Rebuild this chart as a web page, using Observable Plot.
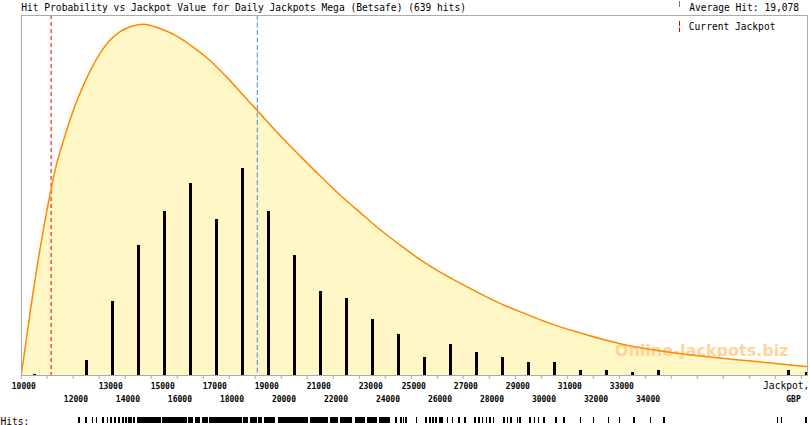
<!DOCTYPE html>
<html>
<head>
<meta charset="utf-8">
<script src="https://cdn.jsdelivr.net/npm/d3@7"></script>
<script src="https://cdn.jsdelivr.net/npm/@observablehq/plot@0.6"></script>
<style>
  html, body { margin: 0; padding: 0; background: white; }
  #chart { width: 810px; }
  #chart svg { display: block; overflow: visible; }
</style>
</head>
<body>
<div id="chart"></div>
<script>
// ---------- data ----------
const gameName = "Daily Jackpots Mega (Betsafe)";
const totalHits = 639;
const averageHit = 19078;
const currentJackpot = 11150;
const xDomain = [10000, 40250];
const yMax = 140.8;

// histogram bins (bin centre, hits)
const binCentres = [10500, 12500, 13500, 14500, 15500, 16500, 17500, 18500, 19500, 20500, 21500,
  22500, 23500, 24500, 25500, 26500, 27500, 28500, 29500, 30500, 31500, 32500, 33500, 34500, 39500, 40190];
const binHits = [0.4, 6, 29, 51, 64, 75, 61, 81, 64, 47, 33,
  30, 22, 16, 7, 12, 9, 7, 5, 5, 2, 2, 1, 2, 2, 1];

// fitted probability curve (jackpot, scaled density)
const curveX = [10000, 10358, 10742, 11127, 11358, 11627, 11896, 12204, 12550, 12935, 13358, 13819,
  14281, 14704, 15358, 16000, 16638, 17281, 17923, 18561, 19100, 19973, 20742, 21512, 22281, 23050,
  23819, 24588, 25358, 26127, 26896, 27665, 28435, 29396, 30358, 31319, 32281, 33550, 34858, 36126,
  37396, 38819, 40231];
const curveY = [0, 25.8, 50.5, 71.8, 82.6, 91.9, 100.5, 109.0, 117.0, 124.4, 130.5, 134.6,
  136.7, 137.4, 135.6, 132.6, 128.2, 123.0, 116.5, 109.4, 103.4, 93.7, 85.7, 77.9, 70.4, 63.6,
  56.9, 50.9, 45.2, 40.3, 36.0, 31.9, 28.1, 24.1, 20.3, 17.2, 14.4, 11.3, 9.2, 7.6,
  6.3, 4.9, 3.5];

// tick values and labels
const tickValues = d3.range(10000, 40001, 1000);
const labelsRowA = [10000, 25000, 27000, 29000, 31000, 33000];
const labelsRowB = [13000, 15000, 17000, 19000, 21000, 23000];
const labelsRowC = [12000, 14000, 16000, 18000, 20000, 22000, 24000, 26000, 28000, 30000, 32000, 34000];

// hits rug: runs of individual hit values [from, to]
const rugFrom = [12215, 12473, 12731, 12885, 13115, 13308, 13435, 13600, 13731, 13885, 14012, 14138, 14331,
  14462, 15446, 16446, 16704, 16961, 17242, 18561, 18819, 19138, 19346, 19885, 21127, 21896, 22281,
  22857, 23319, 23781, 24396, 24588, 24692, 24792, 25204, 25550, 25715, 25831, 25934, 26069, 26384,
  26577, 26830, 27061, 27434, 27600, 27731, 27896, 28023, 28154, 28561, 28692, 28819, 29077, 29177,
  29561, 29742, 29884, 30100, 30550, 30869, 31511, 32000, 32588, 33000, 33561, 34204, 34715, 39077,
  39230, 40177];
const rugTo = [12281, 12538, 12792, 12946, 13215, 13369, 13523, 13654, 13808, 13961, 14088, 14269, 14396,
  15396, 16385, 16638, 16896, 17192, 18500, 18754, 19077, 19292, 19781, 21061, 21830, 22215, 22731,
  23242, 23692, 24204, 24461, 24654, 24754, 24857, 25254, 25615, 25769, 25884, 26011, 26230, 26446,
  26638, 26896, 27127, 27500, 27665, 27792, 27946, 28077, 28204, 28627, 28754, 28884, 29127, 29230,
  29615, 29792, 29934, 30154, 30615, 30923, 31561, 32050, 32638, 33050, 33615, 34254, 34769, 39127,
  39281, 40231];

// ---------- tables ----------
const bins = binCentres.map((x, i) => ({x, hits: binHits[i]}));
const curve = curveX.map((x, i) => ({x, y: curveY[i]}));
const rug = rugFrom.map((a, i) => ({x1: a, x2: rugTo[i]}));

const mono = "DejaVu Sans Mono, monospace";
const fmt = d => String(d);
const avgColor = "#3d8ec6";
const curColor = "#dd0000";

const main = Plot.plot({
  width: 810, height: 410,
  marginTop: 15, marginBottom: 35, marginLeft: 20.7, marginRight: 2.7,
  x: {domain: xDomain, label: null},
  y: {domain: [0, yMax], axis: null, label: null},
  style: {fontFamily: mono, fontSize: "9.6px", background: "white", color: "black"},
  marks: [
    Plot.areaY(curve, {x: "x", y: "y", fill: "#fff8c6", curve: "monotone-x", clip: true}),
    Plot.text(["Online-Jackpots.biz"], {frameAnchor: "bottom-right", textAnchor: "end", lineAnchor: "bottom",
      dx: -19.3, dy: -20, fontFamily: "DejaVu Sans, sans-serif", fontWeight: "bold", fontSize: 16, fill: "#ffd49c"}),
    Plot.ruleX(bins, {x: "x", y1: 0, y2: "hits", stroke: "black", strokeWidth: 3, shapeRendering: "crispEdges"}),
    Plot.ruleX([currentJackpot], {stroke: curColor, strokeDasharray: "4,3"}),
    Plot.ruleX([averageHit], {stroke: avgColor, strokeDasharray: "5,2.5"}),
    Plot.line(curve, {x: "x", y: "y", stroke: "#ff8800", strokeWidth: 1.5, curve: "monotone-x", clip: true}),
    Plot.frame({stroke: "#aaaaaa", shapeRendering: "crispEdges"}),
    Plot.axisX({ticks: tickValues, tickSize: 4, tickFormat: () => "", stroke: "#aaaaaa", label: null}),
    Plot.axisX({ticks: labelsRowA, tickSize: 0, tickPadding: 7.7, dx: 2.6, tickFormat: fmt, label: null,
      fontFamily: mono, fontSize: 8, fontWeight: "bold"}),
    Plot.axisX({ticks: labelsRowB, tickSize: 0, tickPadding: 7.7, dx: 11.5, tickFormat: fmt, label: null,
      fontFamily: mono, fontSize: 8, fontWeight: "bold"}),
    Plot.axisX({ticks: labelsRowC, tickSize: 0, tickPadding: 20.7, dx: 2.7, tickFormat: fmt, label: null,
      fontFamily: mono, fontSize: 8, fontWeight: "bold"}),
    Plot.text(["Jackpot,"], {frameAnchor: "bottom-right", textAnchor: "end", lineAnchor: "top",
      dx: 1.5, dy: 6.7, fontFamily: mono, fontSize: 9.6}),
    Plot.text(["GBP"], {frameAnchor: "bottom-right", textAnchor: "middle", lineAnchor: "top",
      dx: -14.3, dy: 20.7, fontFamily: mono, fontSize: 8, fontWeight: "bold"}),
    Plot.text([`Hit Probability vs Jackpot Value for ${gameName} (${totalHits} hits)`], {
      frameAnchor: "top-left", textAnchor: "start", lineAnchor: "bottom", dy: -4.8, fontFamily: mono, fontSize: 9.6}),
    Plot.text([`Average Hit: ${d3.format(",")(averageHit)}`], {
      frameAnchor: "top-right", textAnchor: "start", lineAnchor: "bottom", dx: -118.5, dy: -4.8, fontFamily: mono, fontSize: 9.6}),
    Plot.text(["Current Jackpot"], {
      frameAnchor: "top-right", textAnchor: "start", lineAnchor: "bottom", dx: -119, dy: 14.5, fontFamily: mono, fontSize: 9.6})
  ]
});

// legend swatches
const svg = d3.select(main);
svg.append("line").attr("x1", 679.5).attr("x2", 679.5).attr("y1", 1).attr("y2", 8)
  .attr("stroke", avgColor).attr("stroke-width", 1).attr("stroke-dasharray", "6,2");
svg.append("line").attr("x1", 679.5).attr("x2", 679.5).attr("y1", 21).attr("y2", 32)
  .attr("stroke", curColor).attr("stroke-width", 1).attr("stroke-dasharray", "5,1.5");

const rugPlot = Plot.plot({
  width: 810, height: 15,
  marginTop: 7, marginBottom: 2, marginLeft: 20.7, marginRight: 2.7,
  x: {domain: xDomain, axis: null, label: null},
  style: {fontFamily: mono, fontSize: "9.6px", background: "white", color: "black"},
  marks: [
    Plot.rect(rug, {x1: "x1", x2: "x2", fill: "black", inset: 0, shapeRendering: "crispEdges"}),
    Plot.text(["Hits:"], {frameAnchor: "bottom-left", textAnchor: "start", lineAnchor: "bottom",
      dx: -20.7, dy: 1, fontFamily: mono, fontSize: 9.6})
  ]
});

const chart = document.getElementById("chart");
chart.appendChild(main);
chart.appendChild(rugPlot);
</script>
</body>
</html>
